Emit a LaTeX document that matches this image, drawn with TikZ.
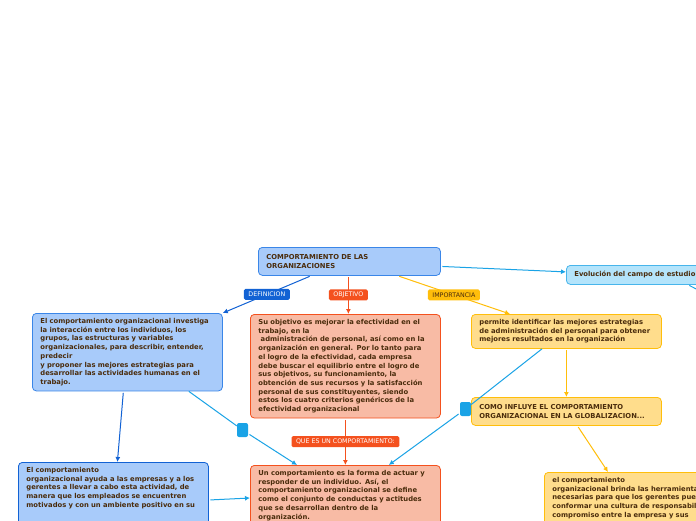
\documentclass[tikz,border=0pt]{standalone}
\usepackage{fontspec}
\setmainfont{DejaVu Sans}
\definecolor{mapText}{HTML}{4A2C0C}
\definecolor{mapBlue}{HTML}{A8CBFA}
\definecolor{mapBlueLine}{HTML}{3A86E8}
\definecolor{mapDeepBlue}{HTML}{1262D4}
\definecolor{mapSalmon}{HTML}{F8BBA5}
\definecolor{mapRed}{HTML}{F4511E}
\definecolor{mapYellow}{HTML}{FFDD8C}
\definecolor{mapAmber}{HTML}{FFBE0B}
\definecolor{mapSky}{HTML}{B4E4FB}
\definecolor{mapCyan}{HTML}{1AA3E6}
\usetikzlibrary{arrows.meta, positioning, calc}

\begin{document}
\begin{tikzpicture}[x=1pt, y=-1pt,
  box/.style={anchor=north west, rounded corners=4pt, line width=0.8pt,
    inner xsep=8pt, inner ysep=5pt, text width=174pt, align=left,
    font=\fontsize{6.8}{8.7}\selectfont\bfseries, text=mapText},
  tag/.style={rounded corners=1.5pt, inner xsep=4.5pt, inner ysep=0pt,
    minimum height=11pt, font=\fontsize{6.3}{6.5}\selectfont, text=white},
  rel/.style={fill=mapCyan, rounded corners=2pt, minimum width=11pt,
    minimum height=14pt, inner sep=0pt},
  arr/.style={-{Latex[length=5pt, width=5pt]}, line width=1pt, shorten <=1.5pt}]

  \path[use as bounding box, fill=white] (0,0) rectangle (696,520);
  \clip (0,0) rectangle (696,520);

  % Central topic
  \node[box, fill=mapBlue, draw=mapBlueLine, text width=166pt, minimum height=28pt] (org) at (258,247)
    {COMPORTAMIENTO DE LAS\\ORGANIZACIONES};
  \node[box, fill=mapSky, draw=mapCyan!80, text width=150pt, minimum height=19pt] (evo) at (566,265)
    {Evolución del campo de estudio};

  \node[box, fill=mapBlue, draw=mapBlueLine] (def) at (32,313)
    {El comportamiento organizacional investiga\\la interacción entre los individuos, los\\grupos, las estructuras y variables\\organizacionales, para describir, entender,\\predecir\\y proponer las mejores estrategias para\\desarrollar las actividades humanas en el\\trabajo.};
  \node[box, fill=mapSalmon, draw=mapRed] (obj) at (250,314)
    {Su objetivo es mejorar la efectividad en el\\trabajo, en la\\\ administración de personal, así como en la\\organización en general. Por lo tanto para\\el logro de la efectividad, cada empresa\\debe buscar el equilibrio entre el logro de\\sus objetivos, su funcionamiento, la\\obtención de sus recursos y la satisfacción\\personal de sus constituyentes, siendo\\estos los cuatro criterios genéricos de la\\efectividad organizacional};
  \node[box, fill=mapYellow, draw=mapAmber] (imp) at (471,314)
    {permite identificar las mejores estrategias\\de administración del personal para obtener\\mejores resultados en la organización};
  \node[box, fill=mapYellow, draw=mapAmber, minimum height=28pt] (como) at (471,397)
    {COMO INFLUYE EL COMPORTAMIENTO\\ORGANIZACIONAL EN LA GLOBALIZACION...};

  % Lower row
  \node[box, fill=mapBlue, draw=mapDeepBlue] (gest) at (18,462)
    {El comportamiento\\organizacional ayuda a las empresas y a los\\gerentes a llevar a cabo esta actividad, de\\manera que los empleados se encuentren\\motivados y con un ambiente positivo en su\\~\\~};
  \node[box, fill=mapSalmon, draw=mapRed] (comp) at (250,465)
    {Un comportamiento es la forma de actuar y\\responder de un individuo. Así, el\\comportamiento organizacional se define\\como el conjunto de conductas y actitudes\\que se desarrollan dentro de la\\organización.\\~};
  \node[box, fill=mapYellow, draw=mapAmber, text width=200pt] (cult) at (544,472)
    {el comportamiento\\organizacional brinda las herramientas\\necesarias para que los gerentes puedan\\conformar una cultura de responsabilidad y\\compromiso entre la empresa y sus\\~};

  \node[rel] (rel1) at (242.5,430) {};
  \node[rel] (rel2) at (465.5,409) {};
  \coordinate (evonext) at (768,325);

  \draw[arr, mapDeepBlue] ([xshift=53pt]org.south west) -- node[tag, fill=mapDeepBlue] (deftag) {DEFINICION} (def.north east);
  \draw[arr, mapRed] (org.south -| obj.north) ++(3pt,0) coordinate (objtop) -- node[tag, fill=mapRed] (objtag) {OBJETIVO} (objtop |- obj.north);
  \draw[arr, mapAmber] ([xshift=-43pt]org.south east) -- node[tag, fill=mapAmber, text=mapText] (imptag) {IMPORTANCIA} ([xshift=39pt]imp.north west);
  \draw[arr, mapCyan] ([yshift=-5pt]org.east) -- ([yshift=3pt]evo.west);
  \draw[arr, mapCyan] ([xshift=122pt]evo.south west) -- (evonext);

  \draw[arr, mapDeepBlue] ([xshift=-4pt]def.south) -- ([xshift=4pt]gest.north);
  \draw[arr, mapCyan] ([xshift=-34pt]def.south east) -- (rel1) -- ([xshift=47pt]comp.north west);
  \draw[arr, mapRed] (obj.south) -- node[tag, fill=mapRed] (comptag) {QUE ES UN COMPORTAMIENTO:} (comp.north);
  \draw[arr, mapCyan] ([xshift=71pt]imp.south west) -- (rel2) -- ([xshift=-52pt]comp.north east);
  \draw[arr, mapAmber] (imp.south) -- (como.north);
  \draw[arr, mapAmber] ([xshift=11pt]como.south) -- ([xshift=64pt]cult.north west);
  \draw[arr, mapCyan] ([yshift=-38pt]gest.north east) -- ([yshift=-33pt]comp.north west);
\end{tikzpicture}
\end{document}
